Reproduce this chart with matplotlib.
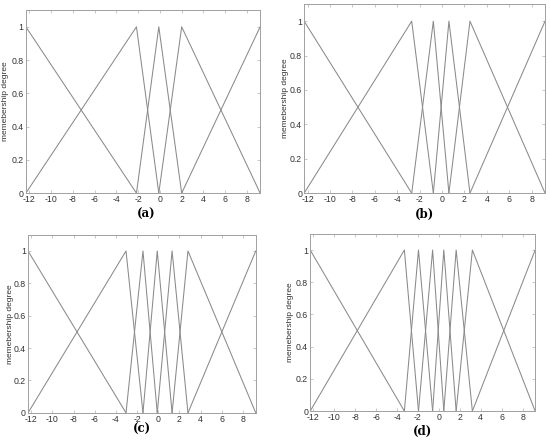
import matplotlib
matplotlib.use("Agg")
import matplotlib.pyplot as plt

# Triangle membership-function breakpoints (peak positions) for each panel
x_min = -12.3
x_max = 9.2
centers_a = [-2.15, -0.1, 2.0]
centers_b = [-2.7, -0.77, 0.62, 2.5]
centers_c = [-3.05, -1.45, -0.1, 1.3, 2.8]
centers_d = [-3.3, -1.95, -0.6, 0.47, 1.65, 3.2]
panel_labels = ["(a)", "(b)", "(c)", "(d)"]
xticks = [-12, -10, -8, -6, -4, -2, 0, 2, 4, 6, 8]
yticks = [0, 0.2, 0.4, 0.6, 0.8, 1]
ytick_labels = ["0", "0.2", "0.4", "0.6", "0.8", "1"]
ylabel_text = "memebership degree"

plt.rcParams["font.family"] = ["Liberation Sans", "DejaVu Sans"]
fig = plt.figure(figsize=(5.5, 4.43), dpi=100)

positions = [
    [0.047, 0.564, 0.426, 0.413],
    [0.553, 0.564, 0.438, 0.427],
    [0.051, 0.068, 0.414, 0.402],
    [0.564, 0.072, 0.409, 0.400],
]
ylabel_x = [-0.072, -0.062, -0.061, -0.071]
label_pos = [(0.265, 0.515), (0.772, 0.515), (0.258, 0.030), (0.768, 0.027)]
all_centers = [centers_a, centers_b, centers_c, centers_d]

line_color = "#8a8a8a"
for pos, inner, lab, lp, yx in zip(positions, all_centers, panel_labels, label_pos, ylabel_x):
    ax = fig.add_axes(pos)
    c = [x_min] + inner + [x_max]
    n = len(c)
    for i in range(n):
        xs, ys = [], []
        if i > 0:
            xs.append(c[i - 1]); ys.append(0)
        xs.append(c[i]); ys.append(1)
        if i < n - 1:
            xs.append(c[i + 1]); ys.append(0)
        ax.plot(xs, ys, color=line_color, lw=0.75)
    ax.set_xlim(x_min, x_max)
    ax.set_ylim(0, 1.1)
    ax.set_xticks(xticks)
    ax.set_xticklabels([str(t) for t in xticks])
    ax.set_yticks(yticks)
    ax.set_yticklabels(ytick_labels)
    ax.tick_params(direction="in", length=2, width=0.5, labelsize=6.3,
                   top=True, right=True, colors="#b0b0b0", labelcolor="#333333", pad=1.5)
    for s in ax.spines.values():
        s.set_color("#a0a0a0")
        s.set_linewidth(0.7)
    ax.set_ylabel(ylabel_text, fontsize=6, color="#333333")
    ax.yaxis.set_label_coords(yx, 0.5)
    fig.text(lp[0], lp[1], lab, ha="center", va="center", fontsize=8.5,
             fontweight="bold", family="DejaVu Serif")

fig.savefig("out.png", dpi=100)
